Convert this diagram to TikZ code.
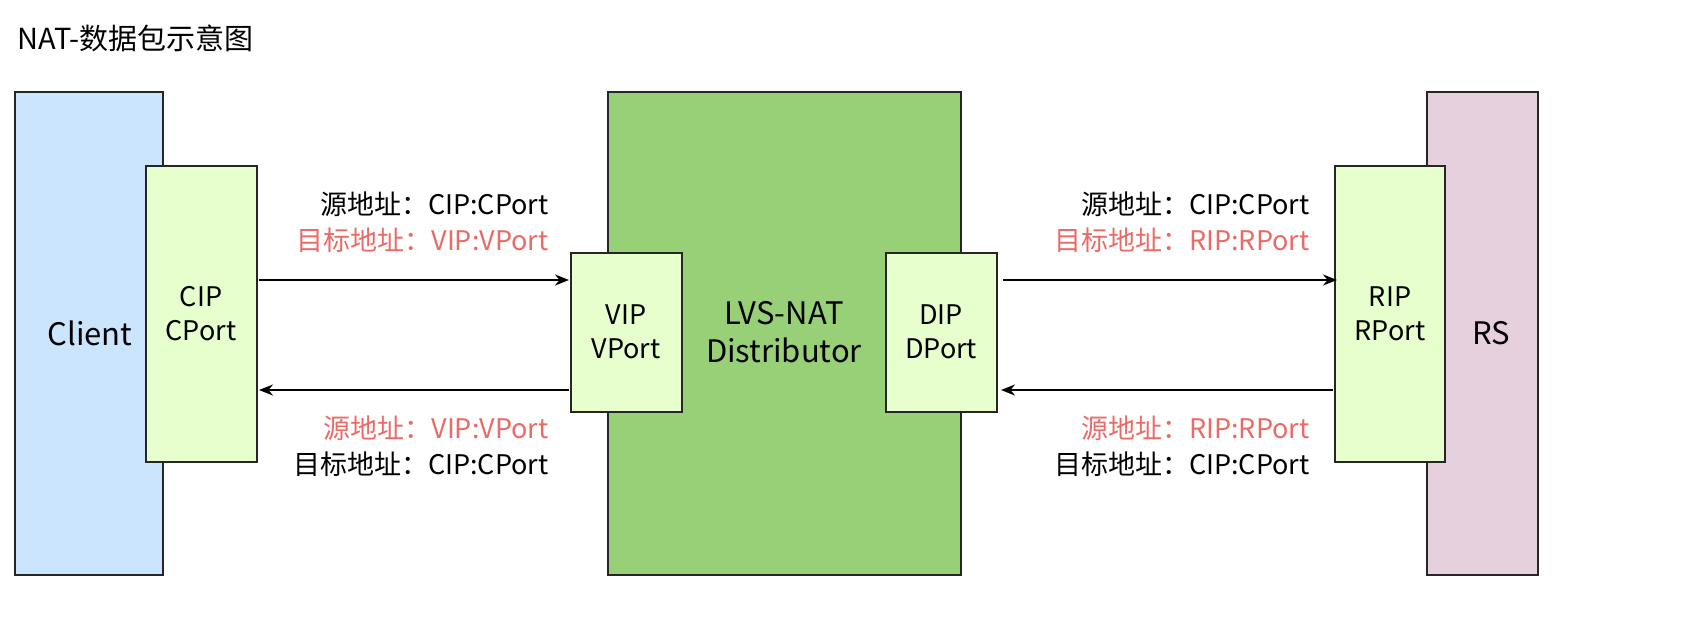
\documentclass[tikz,border=0pt]{standalone}
\usepackage{fontspec}
\setmainfont{Noto Sans CJK SC}
\usetikzlibrary{arrows.meta}
\begin{document}
\begin{tikzpicture}[x=1pt,y=-1pt,
  box/.style={draw=black!85,line width=1.8pt,inner sep=0},
  lbl/.style={font=\fontsize{27}{34}\selectfont,align=center},
  note/.style={font=\fontsize{27}{36}\selectfont,anchor=east,align=right},
  arr/.style={-{Stealth[length=14pt,width=11pt]},line width=1.8pt}]
\definecolor{cblue}{HTML}{CCE5FF}
\definecolor{cgreen}{HTML}{E6FFCC}
\definecolor{dgreen}{HTML}{97D077}
\definecolor{cpink}{HTML}{E6D0DE}
\definecolor{red1}{HTML}{EA6B66}
\useasboundingbox (0,0) rectangle (1688,635);
\node[anchor=west,font=\fontsize{29}{34}\selectfont] (title) at (14,38) {NAT-数据包示意图};
\draw[box,fill=cblue] (15,92) rectangle (163,575);
\node[lbl,font=\fontsize{31}{36}\selectfont] (client) at (90,333) {Client};
\draw[box,fill=cgreen] (146,166) rectangle (257,462);
\node[lbl] (cip) at (201,314) {CIP\\CPort};
\draw[box,fill=dgreen] (608,92) rectangle (961,575);
\node[lbl,font=\fontsize{31}{38}\selectfont] (lvs) at (784,332) {LVS-NAT\\Distributor};
\draw[box,fill=cgreen] (571,253) rectangle (682,412);
\node[lbl] (vip) at (626,332) {VIP\\VPort};
\draw[box,fill=cgreen] (886,253) rectangle (997,412);
\node[lbl] (dip) at (941,332) {DIP\\DPort};
\draw[box,fill=cpink] (1427,92) rectangle (1538,575);
\node[lbl,font=\fontsize{31}{36}\selectfont] (rs) at (1491,333) {RS};
\draw[box,fill=cgreen] (1335,166) rectangle (1445,462);
\node[lbl] (rip) at (1390,314) {RIP\\RPort};
\coordinate (a1) at (259,280); \coordinate (a2) at (569,280);
\coordinate (b1) at (569,390); \coordinate (b2) at (259,390);
\coordinate (c1) at (1003,280); \coordinate (c2) at (1337,280);
\coordinate (d1) at (1333,390); \coordinate (d2) at (1001,390);
\draw[arr] (a1) -- (a2); \draw[arr] (b1) -- (b2);
\draw[arr] (c1) -- (c2); \draw[arr] (d1) -- (d2);
\node[note] (n1) at (552,222) {源地址：CIP:CPort\\\textcolor{red1}{目标地址：VIP:VPort}};
\node[note] (n2) at (552,446) {\textcolor{red1}{源地址：VIP:VPort}\\目标地址：CIP:CPort};
\node[note] (n3) at (1313,222) {源地址：CIP:CPort\\\textcolor{red1}{目标地址：RIP:RPort}};
\node[note] (n4) at (1313,446) {\textcolor{red1}{源地址：RIP:RPort}\\目标地址：CIP:CPort};
\end{tikzpicture}
\end{document}
